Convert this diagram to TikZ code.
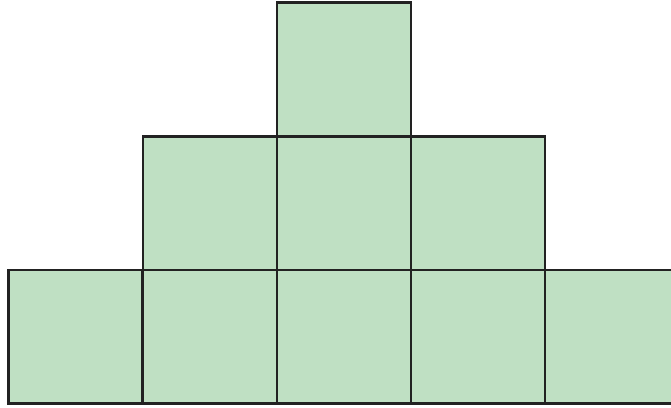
\documentclass[tikz,border=0pt]{standalone}
\begin{document}
\begin{tikzpicture}[x=1pt,y=-1pt,
  cell/.style={draw=edge, fill=cellfill, line width=2.6pt, minimum width=134pt, minimum height=133.7pt, inner sep=0pt, outer sep=0pt, anchor=north west}]
\definecolor{cellfill}{RGB}{191,224,195}
\definecolor{edge}{RGB}{34,34,34}
\useasboundingbox (0,0) rectangle (671,407);
\node[cell] (t1) at (277,2.7) {};
\node[cell] (m1) at (143,136.3) {};
\node[cell] (m2) at (277,136.3) {};
\node[cell] (m3) at (411,136.3) {};
\node[cell] (b1) at (8.7,270) {};
\node[cell] (b2) at (143,270) {};
\node[cell] (b3) at (277,270) {};
\node[cell] (b4) at (411,270) {};
\node[cell] (b5) at (545,270) {};
\end{tikzpicture}
\end{document}
